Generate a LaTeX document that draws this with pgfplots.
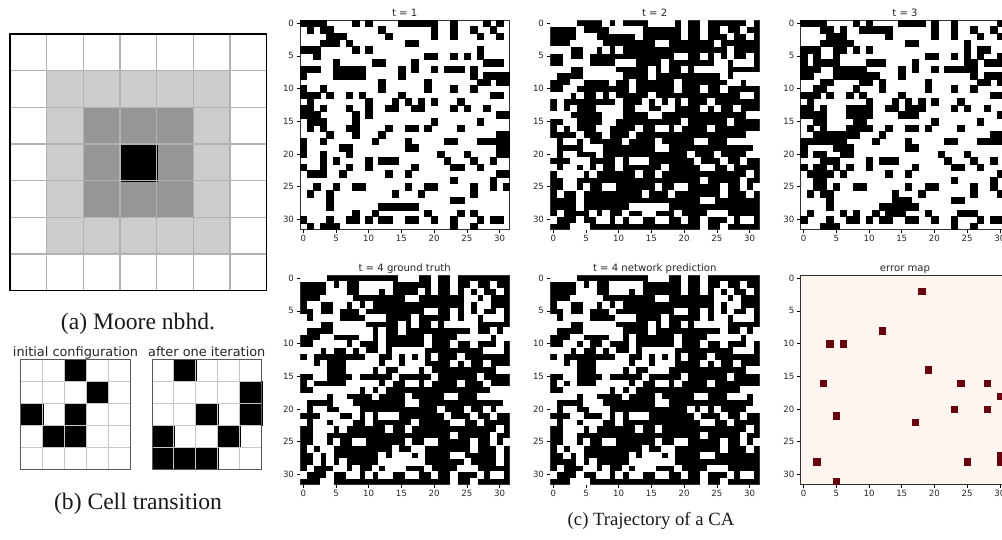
\documentclass[border=0pt]{standalone}
\usepackage{fontspec}
\setmainfont{Liberation Serif}
\newfontfamily\dejavu{DejaVu Sans}
\usepackage{pgfplots}
\pgfplotsset{compat=1.18}

\definecolor{errbg}{HTML}{FFF5F0}
\definecolor{errcell}{HTML}{67000D}
\definecolor{frame}{HTML}{303030}

% one panel of the CA trajectory, 1 pt = 1 px of the reference
\pgfplotsset{
  ca/.style={
    scale only axis, width=209.4pt, height=209.4pt,
    xmin=-0.5, xmax=31.5, ymin=-0.5, ymax=31.5, y dir=reverse,
    xtick={0,5,...,30}, ytick={0,5,...,30},
    xtick pos=lower, xticklabel pos=lower, ytick pos=left,
    tick align=outside, major tick length=3.5pt,
    tick style={black, line width=0.7pt},
    axis line style={frame, line width=0.8pt},
    axis on top,
    /pgf/number format/assume math mode=true,
    ticklabel style={font=\dejavu\fontsize{8.6}{9}\selectfont, text=black!85},
    xticklabel style={yshift=1pt}, yticklabel style={xshift=1pt},
    title style={font=\dejavu\fontsize{10.1}{11}\selectfont, text=black!85, anchor=base, yshift=-2.5pt},
  },
  cells/.style={only marks, mark=square*, mark size=3.25pt,
    mark options={draw=#1, fill=#1, line width=0.1pt}},
  block/.style n args={2}{only marks, mark=square*, mark size=#1,
    mark options={draw=#2, fill=#2, line width=0.1pt}},
  small/.style={
    scale only axis, width=109.6pt, height=110pt,
    xmin=0, xmax=5, ymin=0, ymax=5, y dir=reverse,
    xtick=\empty, ytick=\empty, clip mode=individual,
    axis line style={black!65, line width=1pt},
    axis on top,
    title style={font=\dejavu\fontsize{12.9}{13}\selectfont, text=black!85, anchor=base, yshift=-3pt},
  },
}

\begin{document}
\begin{tikzpicture}
\useasboundingbox (0pt,0pt) rectangle (1002pt,539pt);

% (a) neighbourhood
\begin{axis}[at={(10pt,248.3pt)}, anchor=south west,
  scale only axis, width=256.6pt, height=256.7pt,
  xmin=0, xmax=7, ymin=0, ymax=7, y dir=reverse,
  xtick=\empty, ytick=\empty, clip mode=individual,
  axis line style={black, line width=1.4pt}, axis on top]
\addplot[block={18.3pt}{black!20}] coordinates {
  (1.5,1.5)(2.5,1.5)(3.5,1.5)(4.5,1.5)(5.5,1.5)
  (1.5,2.5)(5.5,2.5)(1.5,3.5)(5.5,3.5)(1.5,4.5)(5.5,4.5)
  (1.5,5.5)(2.5,5.5)(3.5,5.5)(4.5,5.5)(5.5,5.5)};
\addplot[block={18.3pt}{black!41}] coordinates {
  (2.5,2.5)(3.5,2.5)(4.5,2.5)(2.5,3.5)(4.5,3.5)(2.5,4.5)(3.5,4.5)(4.5,4.5)};
\addplot[block={18.3pt}{black}] coordinates {(3.5,3.5)};
% grid lines, zigzag runs outside the limits and gets clipped
\addplot[black!30, line width=1.3pt] coordinates {
  (1,-1)(1,8)(2,8)(2,-1)(3,-1)(3,8)(4,8)(4,-1)(5,-1)(5,8)(6,8)(6,-1)};
\addplot[black!30, line width=1.3pt] coordinates {
  (-1,1)(8,1)(8,2)(-1,2)(-1,3)(8,3)(8,4)(-1,4)(-1,5)(8,5)(8,6)(-1,6)};
\end{axis}

% (b) transition
\begin{axis}[small, at={(20.7pt,69.7pt)}, anchor=south west, title={initial configuration}]
\addplot[block={10.95pt}{black}] coordinates {
  (2.5,0.5)(3.5,1.5)(0.5,2.5)(2.5,2.5)(1.5,3.5)(2.5,3.5)};
\addplot[black!22, line width=1pt] coordinates {(1,-1)(1,6)(2,6)(2,-1)(3,-1)(3,6)(4,6)(4,-1)};
\addplot[black!22, line width=1pt] coordinates {(-1,1)(6,1)(6,2)(-1,2)(-1,3)(6,3)(6,4)(-1,4)};
\end{axis}
\begin{axis}[small, at={(152pt,69.7pt)}, anchor=south west, title={after one iteration}]
\addplot[block={10.95pt}{black}] coordinates {
  (1.5,0.5)(4.5,1.5)(2.5,2.5)(4.5,2.5)(0.5,3.5)(3.5,3.5)(0.5,4.5)(1.5,4.5)(2.5,4.5)};
\addplot[black!22, line width=1pt] coordinates {(1,-1)(1,6)(2,6)(2,-1)(3,-1)(3,6)(4,6)(4,-1)};
\addplot[black!22, line width=1pt] coordinates {(-1,1)(6,1)(6,2)(-1,2)(-1,3)(6,3)(6,4)(-1,4)};
\end{axis}

% t = 1
\begin{axis}[ca, at={(300pt,309.7pt)}, anchor=south west, title={t = 1}]
\addplot[cells=black] coordinates {
(0,0)(1,0)(2,0)(3,0)(8,0)(10,0)(15,0)(16,0)(17,0)(18,0)(19,0)(20,0)(23,0)(28,0)(30,0)
(1,1)(3,1)(4,1)(12,1)(20,1)(23,1)(26,1)(29,1)
(4,2)(5,2)(6,2)(13,2)(20,2)(23,2)(27,2)(30,2)
(3,3)(4,3)(5,3)(7,3)(16,3)(17,3)
(0,4)(1,4)(2,4)(8,4)(10,4)(27,4)
(2,5)(19,5)(20,5)(23,5)(25,5)(27,5)
(5,6)(11,6)(12,6)(17,6)(28,6)(29,6)(30,6)
(0,7)(1,7)(2,7)(5,7)(6,7)(7,7)(8,7)(9,7)(15,7)(17,7)(20,7)(22,7)(23,7)(24,7)(26,7)
(0,8)(5,8)(6,8)(7,8)(8,8)(9,8)(15,8)(26,8)(28,8)(29,8)(30,8)(31,8)
(12,9)(19,9)(27,9)(28,9)(30,9)(31,9)
(0,10)(3,10)(12,10)(19,10)(23,10)(26,10)
(0,11)(1,11)(2,11)(4,11)(7,11)(9,11)(15,11)(29,11)(30,11)
(1,12)(10,12)(14,12)(16,12)(18,12)(20,12)(24,12)
(0,13)(1,13)(3,13)(7,13)(10,13)(13,13)(14,13)(17,13)(18,13)(23,13)(25,13)(28,13)
(0,14)(1,14)(2,14)(8,14)(10,14)(30,14)(31,14)
(1,15)(2,15)(3,15)(8,15)(20,15)(27,15)
(1,16)(3,16)(7,16)(8,16)(13,16)(16,16)(17,16)(19,16)(24,16)
(4,17)(8,17)(12,17)(30,17)(31,17)
(0,18)(3,18)(11,18)(16,18)(22,18)(23,18)(27,18)(28,18)(29,18)(30,18)(31,18)
(0,19)(6,19)(7,19)(16,19)(17,19)(30,19)(31,19)
(0,20)(3,20)(7,20)(21,20)(25,20)(30,20)(31,20)
(3,21)(5,21)(10,21)(12,21)(13,21)(14,21)(22,21)(26,21)(29,21)
(0,22)(3,22)(7,22)(10,22)(17,22)(23,22)(24,22)(27,22)
(1,23)(2,23)(3,23)(6,23)(13,23)(16,23)(30,23)(31,23)
(23,24)(29,24)
(2,25)(5,25)(8,25)(9,25)(16,25)(19,25)(20,25)(26,25)(29,25)(31,25)
(1,26)(4,26)(14,26)(18,26)(26,26)
(4,27)(23,27)(24,27)
(4,28)(12,28)(13,28)(14,28)(15,28)(16,28)(17,28)
(8,29)(11,29)(19,29)(24,29)(26,29)
(0,30)(4,30)(7,30)(8,30)(10,30)(12,30)(13,30)(16,30)(17,30)(20,30)(23,30)(27,30)(29,30)(30,30)
(1,31)(3,31)(4,31)(5,31)(23,31)(26,31)
};
\end{axis}

% t = 2, white cells on black
\begin{axis}[ca, at={(550pt,309.7pt)}, anchor=south west, title={t = 2}, axis background/.style={fill=black}]
\addplot[cells=white] coordinates {
(0,0)(1,0)(2,0)(3,0)(8,0)(10,0)(15,0)(16,0)(17,0)(18,0)(20,0)(23,0)(30,0)
(4,1)(9,1)(10,1)(11,1)(12,1)(13,1)(20,1)(23,1)(26,1)(29,1)
(4,2)(5,2)(6,2)(13,2)(20,2)(23,2)(27,2)(30,2)
(3,3)(4,3)(5,3)(6,3)(7,3)(16,3)(17,3)(25,3)
(0,4)(1,4)(2,4)(5,4)(6,4)(8,4)(10,4)(27,4)
(2,5)(5,5)(19,5)(20,5)(23,5)(25,5)(27,5)(30,5)
(2,6)(3,6)(4,6)(5,6)(10,6)(11,6)(12,6)(17,6)(25,6)(26,6)(28,6)(29,6)(30,6)
(0,7)(1,7)(2,7)(5,7)(6,7)(7,7)(8,7)(9,7)(15,7)(17,7)(20,7)(22,7)(23,7)(24,7)(25,7)(26,7)
(0,8)(5,8)(6,8)(7,8)(8,8)(9,8)(10,8)(15,8)(26,8)(28,8)(29,8)(30,8)(31,8)
(3,9)(4,9)(9,9)(12,9)(19,9)(27,9)(28,9)(30,9)(31,9)
(2,10)(3,10)(12,10)(19,10)(23,10)(26,10)
(0,11)(1,11)(2,11)(4,11)(7,11)(9,11)(15,11)(29,11)(30,11)
(1,12)(10,12)(14,12)(16,12)(18,12)(20,12)(24,12)
(1,13)(3,13)(7,13)(8,13)(9,13)(10,13)(13,13)(14,13)(17,13)(18,13)(23,13)(25,13)(28,13)
(0,14)(1,14)(2,14)(8,14)(9,14)(10,14)(15,14)(16,14)(30,14)(31,14)
(2,15)(3,15)(8,15)(9,15)(20,15)(27,15)
(1,16)(3,16)(7,16)(8,16)(13,16)(16,16)(17,16)(19,16)(24,16)
(4,17)(8,17)(12,17)(30,17)(31,17)
(0,18)(2,18)(3,18)(5,18)(11,18)(16,18)(22,18)(23,18)(27,18)(28,18)(29,18)(30,18)(31,18)
(0,19)(5,19)(6,19)(7,19)(16,19)(17,19)(31,19)
(0,20)(2,20)(3,20)(7,20)(21,20)(25,20)(30,20)(31,20)
(3,21)(4,21)(5,21)(10,21)(12,21)(13,21)(14,21)(22,21)(26,21)(29,21)
(0,22)(2,22)(3,22)(5,22)(7,22)(10,22)(17,22)(23,22)(24,22)(27,22)
(1,23)(2,23)(3,23)(4,23)(6,23)(13,23)(16,23)(30,23)
(2,24)(3,24)(23,24)(29,24)
(2,25)(3,25)(5,25)(8,25)(9,25)(16,25)(19,25)(20,25)(26,25)(29,25)(31,25)
(1,26)(4,26)(14,26)(18,26)(26,26)(30,26)
(4,27)(23,27)(24,27)
(4,28)(12,28)(13,28)(14,28)(15,28)(16,28)(17,28)
(1,29)(6,29)(8,29)(11,29)(14,29)(15,29)(19,29)(24,29)(25,29)(26,29)
(0,30)(4,30)(7,30)(8,30)(10,30)(12,30)(13,30)(16,30)(17,30)(20,30)(23,30)(27,30)(29,30)(30,30)
(3,31)(4,31)(5,31)(23,31)(26,31)
};
\end{axis}

% t = 3
\begin{axis}[ca, at={(800.3pt,309.7pt)}, anchor=south west, title={t = 3}]
\addplot[cells=black] coordinates {
(0,0)(1,0)(2,0)(3,0)(8,0)(10,0)(15,0)(16,0)(17,0)(18,0)(20,0)(23,0)(30,0)
(3,1)(4,1)(6,1)(9,1)(10,1)(11,1)(12,1)(13,1)(20,1)(23,1)(26,1)(29,1)
(4,2)(5,2)(6,2)(13,2)(20,2)(23,2)(27,2)(30,2)
(3,3)(4,3)(5,3)(6,3)(7,3)(16,3)(17,3)(25,3)
(0,4)(1,4)(2,4)(5,4)(6,4)(8,4)(10,4)(25,4)(27,4)(28,4)
(0,5)(2,5)(5,5)(19,5)(20,5)(23,5)(25,5)(27,5)(30,5)
(0,6)(2,6)(3,6)(4,6)(5,6)(10,6)(11,6)(12,6)(17,6)(25,6)(26,6)(28,6)(29,6)(30,6)
(0,7)(1,7)(2,7)(5,7)(6,7)(7,7)(8,7)(9,7)(15,7)(17,7)(20,7)(22,7)(23,7)(24,7)(25,7)(26,7)
(0,8)(1,8)(5,8)(6,8)(7,8)(8,8)(9,8)(10,8)(11,8)(15,8)(26,8)(28,8)(29,8)(30,8)(31,8)
(3,9)(4,9)(9,9)(10,9)(12,9)(19,9)(27,9)(28,9)(30,9)(31,9)
(2,10)(3,10)(8,10)(12,10)(19,10)(23,10)(26,10)
(0,11)(1,11)(2,11)(4,11)(7,11)(9,11)(15,11)(29,11)(30,11)
(1,12)(10,12)(14,12)(16,12)(18,12)(20,12)(24,12)
(0,13)(1,13)(3,13)(7,13)(8,13)(9,13)(10,13)(13,13)(14,13)(16,13)(17,13)(18,13)(23,13)(25,13)(28,13)
(0,14)(1,14)(2,14)(3,14)(7,14)(8,14)(9,14)(10,14)(15,14)(16,14)(17,14)(30,14)
(2,15)(3,15)(8,15)(9,15)(20,15)(27,15)
(1,16)(3,16)(7,16)(8,16)(9,16)(10,16)(13,16)(16,16)(17,16)(19,16)(24,16)
(2,17)(3,17)(4,17)(5,17)(6,17)(7,17)(8,17)(12,17)(29,17)(30,17)
(0,18)(1,18)(2,18)(3,18)(4,18)(5,18)(6,18)(11,18)(16,18)(22,18)(23,18)(27,18)(28,18)(29,18)(30,18)
(0,19)(5,19)(6,19)(7,19)(16,19)(17,19)
(0,20)(2,20)(3,20)(6,20)(7,20)(21,20)(25,20)
(3,21)(4,21)(5,21)(10,21)(12,21)(13,21)(14,21)(22,21)(26,21)(29,21)
(0,22)(2,22)(3,22)(5,22)(7,22)(10,22)(17,22)(23,22)(24,22)(27,22)
(1,23)(2,23)(3,23)(4,23)(6,23)(13,23)(16,23)(30,23)
(2,24)(3,24)(23,24)(29,24)
(2,25)(3,25)(5,25)(8,25)(9,25)(16,25)(19,25)(20,25)(26,25)(29,25)
(1,26)(3,26)(4,26)(14,26)(18,26)(26,26)(30,26)
(4,27)(14,27)(15,27)(16,27)(23,27)(24,27)
(4,28)(12,28)(13,28)(14,28)(15,28)(16,28)(17,28)
(1,29)(6,29)(8,29)(11,29)(13,29)(14,29)(15,29)(19,29)(24,29)(25,29)(26,29)
(0,30)(4,30)(7,30)(8,30)(10,30)(12,30)(13,30)(16,30)(17,30)(20,30)(23,30)(27,30)(29,30)(30,30)(31,30)
(3,31)(4,31)(5,31)(23,31)(26,31)
};
\end{axis}

% t = 4 ground truth
\begin{axis}[ca, at={(300pt,54.7pt)}, anchor=south west, title={t = 4 ground truth}, axis background/.style={fill=black}]
\addplot[cells=white] coordinates {
(0,0)(1,0)(2,0)(3,0)(15,0)(16,0)(17,0)(20,0)(23,0)
(4,1)(6,1)(9,1)(10,1)(11,1)(12,1)(13,1)(20,1)(23,1)(26,1)(29,1)
(4,2)(5,2)(6,2)(9,2)(10,2)(11,2)(13,2)(18,2)(20,2)(23,2)(25,2)(27,2)(30,2)
(3,3)(4,3)(5,3)(6,3)(7,3)(16,3)(17,3)(25,3)(26,3)(28,3)
(1,4)(2,4)(5,4)(6,4)(8,4)(10,4)(25,4)(27,4)(28,4)
(2,5)(5,5)(9,5)(19,5)(20,5)(23,5)(25,5)(27,5)(30,5)
(0,6)(2,6)(3,6)(4,6)(5,6)(10,6)(11,6)(12,6)(17,6)(23,6)(25,6)(26,6)(28,6)(29,6)(30,6)
(0,7)(1,7)(2,7)(5,7)(6,7)(7,7)(8,7)(9,7)(15,7)(17,7)(20,7)(22,7)(23,7)(24,7)(25,7)(26,7)
(0,8)(5,8)(6,8)(7,8)(8,8)(9,8)(10,8)(12,8)(15,8)(26,8)(29,8)(31,8)
(3,9)(4,9)(9,9)(10,9)(12,9)(19,9)(24,9)(25,9)(26,9)(27,9)(28,9)(30,9)(31,9)
(2,10)(3,10)(4,10)(5,10)(6,10)(8,10)(12,10)(19,10)(23,10)(26,10)(30,10)
(0,11)(1,11)(2,11)(4,11)(7,11)(9,11)(12,11)(14,11)(15,11)(16,11)(17,11)(18,11)(28,11)(29,11)(30,11)
(1,12)(10,12)(11,12)(14,12)(16,12)(18,12)(20,12)(24,12)
(0,13)(1,13)(3,13)(7,13)(8,13)(9,13)(10,13)(11,13)(13,13)(14,13)(16,13)(17,13)(18,13)(23,13)(25,13)(28,13)
(0,14)(1,14)(2,14)(3,14)(7,14)(8,14)(9,14)(10,14)(12,14)(15,14)(16,14)(17,14)(19,14)(30,14)(31,14)
(2,15)(3,15)(8,15)(14,15)(20,15)(27,15)
(1,16)(7,16)(8,16)(9,16)(10,16)(11,16)(13,16)(16,16)(17,16)(19,16)(24,16)(28,16)
(2,17)(3,17)(4,17)(5,17)(6,17)(7,17)(8,17)(10,17)(12,17)(29,17)(30,17)(31,17)
(0,18)(1,18)(2,18)(3,18)(5,18)(6,18)(11,18)(16,18)(22,18)(23,18)(27,18)(28,18)(29,18)(30,18)(31,18)
(0,19)(5,19)(6,19)(7,19)(16,19)(17,19)(31,19)
(0,20)(2,20)(3,20)(6,20)(7,20)(8,20)(21,20)(25,20)(28,20)(30,20)(31,20)
(3,21)(4,21)(5,21)(8,21)(10,21)(12,21)(13,21)(14,21)(22,21)(26,21)(29,21)
(0,22)(2,22)(3,22)(5,22)(6,22)(7,22)(10,22)(17,22)(23,22)(24,22)(27,22)
(2,23)(3,23)(4,23)(6,23)(13,23)(16,23)(30,23)
(2,24)(3,24)(23,24)(29,24)
(2,25)(3,25)(5,25)(8,25)(9,25)(16,25)(19,25)(20,25)(26,25)(29,25)(31,25)
(1,26)(3,26)(4,26)(14,26)(17,26)(18,26)(26,26)(30,26)
(2,27)(4,27)(12,27)(14,27)(15,27)(16,27)(18,27)(23,27)(24,27)(30,27)
(2,28)(4,28)(6,28)(12,28)(13,28)(14,28)(15,28)(16,28)(17,28)(18,28)(25,28)(30,28)
(1,29)(5,29)(6,29)(8,29)(11,29)(13,29)(14,29)(15,29)(19,29)(24,29)(25,29)(26,29)
(0,30)(4,30)(7,30)(8,30)(10,30)(12,30)(13,30)(16,30)(17,30)(20,30)(23,30)(27,30)(29,30)(30,30)
(3,31)(4,31)(23,31)(26,31)
};
\end{axis}

% t = 4 prediction
\begin{axis}[ca, at={(550pt,54.7pt)}, anchor=south west, title={t = 4 network prediction}, axis background/.style={fill=black}]
\addplot[cells=white] coordinates {
(0,0)(1,0)(2,0)(3,0)(15,0)(16,0)(17,0)(20,0)(23,0)
(4,1)(6,1)(9,1)(10,1)(11,1)(12,1)(13,1)(20,1)(23,1)(26,1)(29,1)
(4,2)(5,2)(6,2)(9,2)(10,2)(11,2)(13,2)(20,2)(23,2)(25,2)(27,2)(30,2)
(3,3)(4,3)(5,3)(6,3)(7,3)(16,3)(17,3)(25,3)(26,3)(28,3)
(1,4)(2,4)(5,4)(6,4)(8,4)(10,4)(25,4)(27,4)(28,4)
(2,5)(5,5)(9,5)(19,5)(20,5)(23,5)(25,5)(27,5)(30,5)
(0,6)(2,6)(3,6)(4,6)(5,6)(10,6)(11,6)(12,6)(17,6)(23,6)(25,6)(26,6)(28,6)(29,6)(30,6)
(0,7)(1,7)(2,7)(5,7)(6,7)(7,7)(8,7)(9,7)(15,7)(17,7)(20,7)(22,7)(23,7)(24,7)(25,7)(26,7)
(0,8)(5,8)(6,8)(7,8)(8,8)(9,8)(10,8)(15,8)(26,8)(29,8)(31,8)
(3,9)(4,9)(9,9)(10,9)(12,9)(19,9)(24,9)(25,9)(26,9)(27,9)(28,9)(30,9)(31,9)
(2,10)(3,10)(5,10)(8,10)(12,10)(19,10)(23,10)(26,10)(30,10)
(0,11)(1,11)(2,11)(4,11)(7,11)(9,11)(12,11)(14,11)(15,11)(16,11)(17,11)(18,11)(28,11)(29,11)(30,11)
(1,12)(10,12)(11,12)(14,12)(16,12)(18,12)(20,12)(24,12)
(0,13)(1,13)(3,13)(7,13)(8,13)(9,13)(10,13)(11,13)(13,13)(14,13)(16,13)(17,13)(18,13)(23,13)(25,13)(28,13)
(0,14)(1,14)(2,14)(3,14)(7,14)(8,14)(9,14)(10,14)(12,14)(15,14)(16,14)(17,14)(30,14)(31,14)
(2,15)(3,15)(8,15)(14,15)(20,15)(27,15)
(1,16)(3,16)(7,16)(8,16)(9,16)(10,16)(11,16)(13,16)(16,16)(17,16)(19,16)(24,16)
(2,17)(3,17)(4,17)(5,17)(6,17)(7,17)(8,17)(10,17)(12,17)(29,17)(30,17)(31,17)
(0,18)(1,18)(2,18)(3,18)(5,18)(6,18)(11,18)(16,18)(22,18)(23,18)(27,18)(28,18)(29,18)(31,18)
(0,19)(5,19)(6,19)(7,19)(16,19)(17,19)(31,19)
(0,20)(2,20)(3,20)(6,20)(7,20)(8,20)(21,20)(23,20)(25,20)(30,20)(31,20)
(3,21)(4,21)(8,21)(10,21)(12,21)(13,21)(14,21)(22,21)(26,21)(29,21)
(0,22)(2,22)(3,22)(5,22)(6,22)(7,22)(10,22)(23,22)(24,22)(27,22)
(2,23)(3,23)(4,23)(6,23)(13,23)(16,23)(30,23)
(2,24)(3,24)(23,24)(29,24)
(2,25)(3,25)(5,25)(8,25)(9,25)(16,25)(19,25)(20,25)(26,25)(29,25)(31,25)
(1,26)(3,26)(4,26)(14,26)(17,26)(18,26)(26,26)(30,26)
(2,27)(4,27)(12,27)(14,27)(15,27)(16,27)(18,27)(23,27)(24,27)
(4,28)(6,28)(12,28)(13,28)(14,28)(15,28)(16,28)(17,28)(18,28)
(1,29)(5,29)(6,29)(8,29)(11,29)(13,29)(14,29)(15,29)(19,29)(24,29)(25,29)(26,29)
(0,30)(4,30)(7,30)(8,30)(10,30)(12,30)(13,30)(16,30)(17,30)(20,30)(23,30)(27,30)(29,30)(30,30)
(3,31)(4,31)(5,31)(23,31)(26,31)
};
\end{axis}

% error map
\begin{axis}[ca, at={(800.3pt,54.7pt)}, anchor=south west, title={error map}, axis background/.style={fill=errbg}]
\addplot[cells=errcell] coordinates {
(18,2)(12,8)(4,10)(6,10)(19,14)(3,16)(24,16)(28,16)(30,18)(23,20)(28,20)(5,21)(17,22)
(30,27)(2,28)(25,28)(30,28)(5,31)};
\end{axis}

\node[font=\fontsize{23.6}{24}\selectfont, text=black!90] at (138pt,215pt) {(a) Moore nbhd.};
\node[font=\fontsize{23.6}{24}\selectfont, text=black!90] at (138pt,35pt) {(b) Cell transition};
\node[font=\fontsize{18.7}{19}\selectfont, text=black!90] at (651pt,18pt) {(c) Trajectory of a CA};
\end{tikzpicture}
\end{document}
